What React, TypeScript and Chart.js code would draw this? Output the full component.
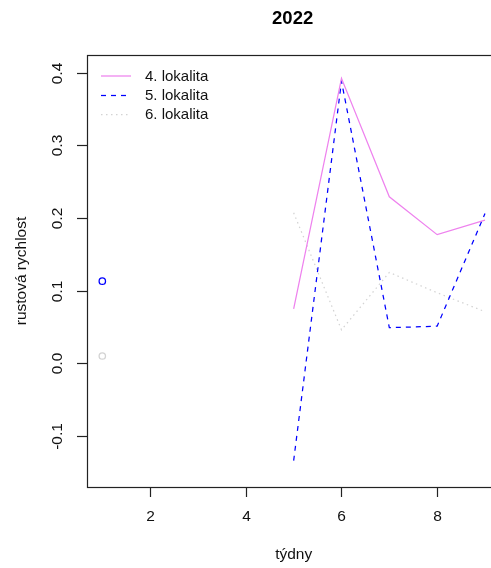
import React, { useEffect, useRef } from "react";
import Chart from "chart.js/auto";

// Weekly growth rate per site, 2022 (null = no measurement)
const weeks = [1, 2, 3, 4, 5, 6, 7, 8, 9];
const lokalita4 = [null, null, null, null, 0.075, 0.392, 0.229, 0.177, 0.197];
const lokalita5 = [0.113, null, null, null, -0.134, 0.388, 0.049, 0.051, 0.206];
const lokalita6 = [0.010, null, null, null, 0.207, 0.046, 0.125, 0.097, 0.071];

const seriesNames = ["4. lokalita", "5. lokalita", "6. lokalita"];
const seriesColors = ["#EE82EE", "#0000FF", "#D3D3D3"];
const seriesDashes = [[], [5, 5], [1.5, 3.5]];

const xTicks = [2, 4, 6, 8];
const yTicks = [-0.1, 0.0, 0.1, 0.2, 0.3, 0.4];
const yTickLabels = ["-0.1", "0.0", "0.1", "0.2", "0.3", "0.4"];

const titleText = "2022";
const xTitle = "týdny";
const yTitle = "rustová rychlost";

const X_MIN = 0.68;
const X_MAX = 9.32;
const Y_MIN = -0.1702;
const Y_MAX = 0.4241;

const FONT = "Liberation Sans, Arial, sans-serif";

function toPoints(values: (number | null)[]) {
  return weeks.map((w, i) => ({ x: w, y: values[i] }));
}

// a value with no neighbour on either side is shown as an open circle
function isolatedRadius(values: (number | null)[]) {
  return values.map((v, i) => {
    if (v === null) return 0;
    const prev = i > 0 ? values[i - 1] : null;
    const next = i < values.length - 1 ? values[i + 1] : null;
    return prev === null && next === null ? 3.2 : 0;
  });
}

const framePlugin = {
  id: "baseFrame",
  afterDraw(chart: any) {
    const { ctx, chartArea } = chart;
    const xs = chart.scales.x;
    const ys = chart.scales.y;
    const { left, right, top, bottom } = chartArea;
    ctx.save();

    // box
    ctx.strokeStyle = "#222";
    ctx.lineWidth = 1.2;
    ctx.setLineDash([]);
    ctx.strokeRect(left + 0.5, top + 0.5, right - left, bottom - top);

    // x ticks
    ctx.fillStyle = "#111";
    ctx.font = `15.5px ${FONT}`;
    ctx.textAlign = "center";
    ctx.textBaseline = "middle";
    xTicks.forEach((t) => {
      const px = Math.round(xs.getPixelForValue(t)) + 0.5;
      ctx.beginPath();
      ctx.moveTo(px, bottom);
      ctx.lineTo(px, bottom + 10);
      ctx.stroke();
      ctx.fillText(String(t), px, bottom + 30);
    });

    // y ticks with rotated labels
    yTicks.forEach((t, i) => {
      const py = Math.round(ys.getPixelForValue(t)) + 0.5;
      ctx.beginPath();
      ctx.moveTo(left - 10, py);
      ctx.lineTo(left, py);
      ctx.stroke();
      ctx.save();
      ctx.translate(left - 29, py);
      ctx.rotate(-Math.PI / 2);
      ctx.fillText(yTickLabels[i], 0, 0);
      ctx.restore();
    });

    // titles
    const cx = (left + right) / 2;
    ctx.fillText(xTitle, cx, 555);
    ctx.save();
    ctx.translate(22, (top + bottom) / 2);
    ctx.rotate(-Math.PI / 2);
    ctx.fillText(yTitle, 0, 0);
    ctx.restore();

    ctx.font = `bold 18.5px ${FONT}`;
    ctx.fillStyle = "#000";
    ctx.fillText(titleText, cx - 1, 19);

    // legend
    ctx.font = `15px ${FONT}`;
    ctx.textAlign = "left";
    const rows = [76, 95.5, 114.5];
    seriesNames.forEach((name, i) => {
      ctx.strokeStyle = seriesColors[i];
      ctx.lineWidth = 1.25;
      ctx.setLineDash(seriesDashes[i]);
      ctx.beginPath();
      ctx.moveTo(101, rows[i]);
      ctx.lineTo(131, rows[i]);
      ctx.stroke();
      ctx.setLineDash([]);
      ctx.fillStyle = "#111";
      ctx.fillText(name, 145, rows[i] + 0.5);
    });

    ctx.restore();
  },
};

export default function App() {
  const canvasRef = useRef<HTMLCanvasElement | null>(null);

  useEffect(() => {
    const canvas = canvasRef.current;
    if (!canvas) return;
    const all = [lokalita4, lokalita5, lokalita6];
    const chart = new Chart(canvas, {
      type: "line",
      data: {
        datasets: all.map((vals, i) => ({
          label: seriesNames[i],
          data: toPoints(vals),
          borderColor: seriesColors[i],
          backgroundColor: "rgba(0,0,0,0)",
          borderWidth: 1.25,
          borderDash: seriesDashes[i],
          pointRadius: isolatedRadius(vals),
          pointBorderColor: seriesColors[i],
          pointBackgroundColor: "rgba(0,0,0,0)",
          pointBorderWidth: 1.3,
          spanGaps: false,
          tension: 0,
          fill: false,
        })),
      },
      options: {
        responsive: false,
        animation: false,
        devicePixelRatio: 1,
        layout: { padding: { left: 87, top: 55, right: 9.7, bottom: 81 } },
        plugins: {
          legend: { display: false },
          title: { display: false },
          tooltip: { enabled: false },
        },
        scales: {
          x: { type: "linear", min: X_MIN, max: X_MAX, display: false },
          y: { type: "linear", min: Y_MIN, max: Y_MAX, display: false },
        },
      },
      plugins: [framePlugin],
    });
    return () => chart.destroy();
  }, []);

  return (
    <div
      style={{
        position: "absolute",
        left: 0,
        top: 0,
        width: 491,
        height: 568,
        overflow: "hidden",
        background: "#fff",
      }}
    >
      <canvas ref={canvasRef} width={510} height={568} style={{ display: "block" }} />
    </div>
  );
}
